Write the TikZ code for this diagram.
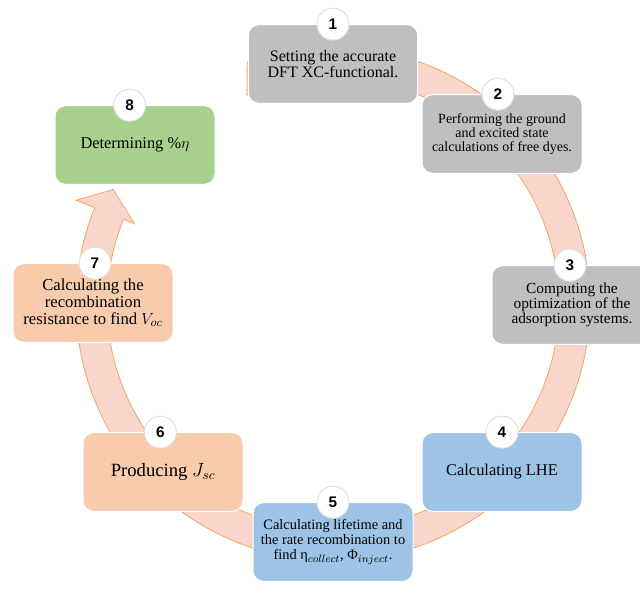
\documentclass[tikz,border=0pt]{standalone}
\usepackage{fontspec}
\setmainfont{Liberation Serif}
\newfontfamily\numfont{Liberation Sans}
\usepackage{xcolor}
\usepackage{amsmath}
\usepackage{tikz}
\usetikzlibrary{shapes}
\usetikzlibrary{arrows}
\definecolor{boxgrey}{RGB}{191,191,191}
\definecolor{boxblue}{RGB}{157,195,230}
\definecolor{boxorange}{RGB}{248,203,173}
\definecolor{boxgreen}{RGB}{169,209,142}
\definecolor{ringfill}{RGB}{248,214,203}
\definecolor{ringedge}{RGB}{244,164,100}
\tikzset{
	stage box/.style={rectangle,rounded corners=8pt,draw=white,line width=0.75pt,
		minimum width=120pt,minimum height=59pt,align=center,inner sep=2pt},
	num node/.style={circle,draw=black!12,fill=white,line width=0.75pt,minimum size=24pt,
		inner sep=0pt,font=\numfont\bfseries\fontsize{11.5}{11.5}\selectfont},
	ring arrow/.style={fill=ringfill,draw=ringedge,line width=0.6pt}
}

\begin{document}
\begin{tikzpicture}[x=0.75pt,y=0.75pt]
	\useasboundingbox (0,0) rectangle (640,595);
	% the circular arrow behind the boxes
	\begin{scope}[shift={(333,291)}]
		\path[ring arrow] (109.5:257) arc[start angle=109.5,end angle=-202,radius=257]
			-- (-202:277) -- (-207.5:248) -- (-202:214) -- (-202:226)
			arc[start angle=-202,end angle=112.4,radius=226] -- cycle;
	\end{scope}
	% boxes
	\node [stage box,fill=boxgrey,minimum width=127pt,font=\fontsize{12}{11.5}\selectfont] (1) at (333,531)
		{Setting the accurate\\DFT XC-functional.};
	\node [stage box,fill=boxgrey,font=\fontsize{10.5}{10.5}\selectfont] (2) at (502,461)
		{Performing the ground\\and excited state\\calculations of free dyes.};
	\node [stage box,fill=boxgrey,font=\fontsize{11.5}{11.3}\selectfont] (3) at (572,290)
		{Computing the\\optimization of the\\adsorption systems.};
	\node [stage box,fill=boxblue,font=\fontsize{12.3}{12}\selectfont] (4) at (502,123)
		{Calculating LHE};
	\node [stage box,fill=boxblue,font=\fontsize{10.8}{11.3}\selectfont] (5) at (333,53)
		{Calculating lifetime and\\the rate recombination to\\find η$_{collect}$, Φ$_{inject}$.};
	\node [stage box,fill=boxorange,font=\fontsize{14}{14}\selectfont] (6) at (163,123)
		{Producing $J_{sc}$};
	\node [stage box,fill=boxorange,font=\fontsize{12.5}{12.5}\selectfont] (7) at (93,292)
		{Calculating the\\recombination\\resistance to find $V_{oc}$};
	\node [stage box,fill=boxgreen,font=\fontsize{12.3}{12}\selectfont] (8) at (135,450)
		{Determining \%$\eta$};
	% step numbers
	\node [num node] (n1) at (1.north) {1};
	\node [num node,xshift=-3pt] (n2) at (2.north) {2};
	\node [num node,xshift=-1.5pt] (n3) at (3.north) {3};
	\node [num node] (n4) at (4.north) {4};
	\node [num node] (n5) at (5.north) {5};
	\node [num node,xshift=-2pt] (n6) at (6.north) {6};
	\node [num node,xshift=1.5pt] (n7) at (7.north) {7};
	\node [num node,xshift=-4pt] (n8) at (8.north) {8};
\end{tikzpicture}
\end{document}
